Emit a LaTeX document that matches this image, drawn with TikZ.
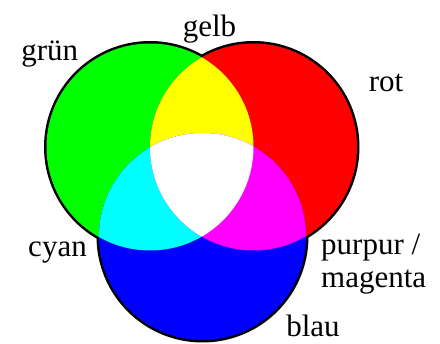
\documentclass[tikz,border=0pt]{standalone}
\usepackage{fontspec}
\setmainfont{Liberation Serif}
\definecolor{cG}{RGB}{0,255,0}
\definecolor{cR}{RGB}{255,0,0}
\definecolor{cB}{RGB}{0,0,255}
\definecolor{cY}{RGB}{255,255,0}
\definecolor{cC}{RGB}{0,255,255}
\definecolor{cM}{RGB}{255,0,255}
\begin{document}
\begin{tikzpicture}[x=1pt,y=-1pt,
  lbl/.style={font=\fontsize{31}{33}\selectfont, inner sep=0pt, anchor=base},
  lblw/.style={lbl, anchor=base west},
  rim/.style={draw=black, line width=5pt}]
\useasboundingbox (0,0) rectangle (440,344);
\coordinate (G) at (150,147);
\coordinate (R) at (253.5,147);
\coordinate (B) at (202.5,236.5);
% outlines (only outer half remains visible)
\draw[rim] (G) circle[radius=103.5pt];
\draw[rim] (R) circle[radius=103.5pt];
\draw[rim] (B) circle[radius=103.5pt];
% primary fills
\fill[cG] (G) circle[radius=103.5pt];
\fill[cR] (R) circle[radius=103.5pt];
\fill[cB] (B) circle[radius=103.5pt];
% overlaps
\begin{scope}
  \clip (G) circle[radius=103.5pt];
  \fill[cY] (R) circle[radius=103.5pt];
  \fill[cC] (B) circle[radius=103.5pt];
\end{scope}
\begin{scope}
  \clip (R) circle[radius=103.5pt];
  \fill[cM] (B) circle[radius=103.5pt];
\end{scope}
\begin{scope}
  \clip (G) circle[radius=103.5pt];
  \clip (R) circle[radius=103.5pt];
  \fill[white] (B) circle[radius=103.5pt];
\end{scope}
% labels
\node[lbl] (gelb) at (209.5,36.5) {gelb};
\node[lbl] (gruen) at (49.7,60.5) {grün};
\node[lbl] (rot) at (386,91.7) {rot};
\node[lbl] (cyan) at (57.5,257) {cyan};
\node[lblw] (purpur) at (321,255) {purpur /};
\node[lblw] (magenta) at (321,287.5) {magenta};
\node[lbl] (blau) at (313,337) {blau};
\end{tikzpicture}
\end{document}
